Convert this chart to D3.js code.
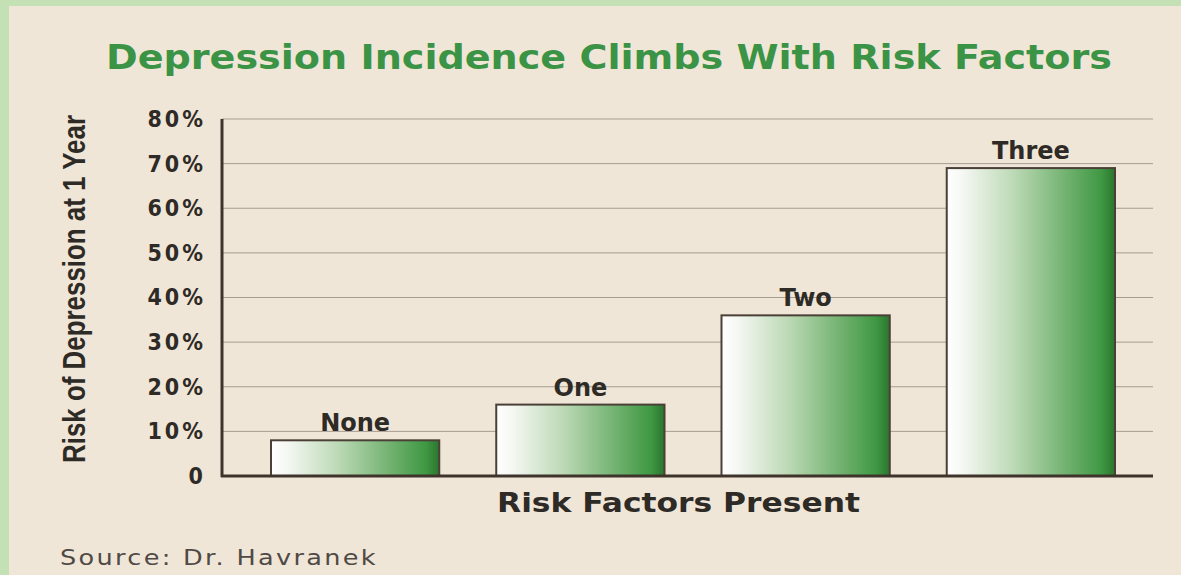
<!DOCTYPE html>
<html>
<head>
<meta charset="utf-8">
<script src="https://cdn.jsdelivr.net/npm/d3@7"></script>
<style>
  body { margin: 0; background: #f0e6d7; }
  svg { display: block; }
</style>
</head>
<body>
<div id="chart"></div>
<script>
// chart data
var categories = ["None", "One", "Two", "Three"];
var riskValues = [8, 16, 36, 69];
var yTicks = [0, 10, 20, 30, 40, 50, 60, 70, 80];

var svgWidth = 1181;
var svgHeight = 575;

var svg = d3.select("#chart")
  .append("svg")
  .attr("width", svgWidth)
  .attr("height", svgHeight);

// background panel with green border on top/left
svg.append("rect")
  .attr("width", svgWidth)
  .attr("height", svgHeight)
  .attr("fill", "#c4e1b6");
svg.append("rect")
  .attr("x", 9)
  .attr("y", 6)
  .attr("width", svgWidth - 9)
  .attr("height", svgHeight - 6)
  .attr("fill", "#f0e6d7");

// bar gradient
var defs = svg.append("defs");
var grad = defs.append("linearGradient")
  .attr("id", "barGrad")
  .attr("x1", "0%").attr("x2", "100%")
  .attr("y1", "0%").attr("y2", "0%");
grad.append("stop").attr("offset", "0%").attr("stop-color", "#ffffff");
grad.append("stop").attr("offset", "10%").attr("stop-color", "#f4f7f2");
grad.append("stop").attr("offset", "40%").attr("stop-color", "#bcd9b5");
grad.append("stop").attr("offset", "70%").attr("stop-color", "#74b372");
grad.append("stop").attr("offset", "92%").attr("stop-color", "#3f9843");
grad.append("stop").attr("offset", "100%").attr("stop-color", "#2a752e");

var plotLeft = 222, plotRight = 1153;

var y = d3.scaleLinear()
  .domain([0, 80])
  .range([476, 119]);

var x = d3.scaleBand()
  .domain(categories)
  .range([271, 1115])
  .paddingInner(0.253)
  .paddingOuter(0);

// gridlines
svg.append("g")
  .selectAll("line")
  .data(yTicks.filter(d => d > 0))
  .enter()
  .append("line")
  .attr("x1", plotLeft)
  .attr("x2", plotRight)
  .attr("y1", d => y(d))
  .attr("y2", d => y(d))
  .attr("stroke", "#a59d92")
  .attr("stroke-width", 1);

// y axis labels
var leftAxis = d3.axisLeft(y)
  .tickValues(yTicks)
  .tickSize(0)
  .tickPadding(16)
  .tickFormat(d => d === 0 ? "0" : d + "%");

var yAxisG = svg.append("g")
  .attr("transform", `translate(${plotLeft}, 0)`)
  .call(leftAxis);
yAxisG.select(".domain").remove();
yAxisG.selectAll("text")
  .attr("fill", "#2e2a26")
  .style("font-family", "'DejaVu Sans Condensed', 'DejaVu Sans', sans-serif")
  .style("font-stretch", "condensed")
  .style("font-weight", "bold")
  .style("letter-spacing", "3px")
  .style("font-size", "23px");

// bars
svg.append("g")
  .selectAll("rect")
  .data(riskValues)
  .enter()
  .append("rect")
  .attr("x", (d, i) => x(categories[i]))
  .attr("y", d => y(d))
  .attr("width", x.bandwidth())
  .attr("height", d => y(0) - y(d))
  .attr("fill", "url(#barGrad)")
  .attr("stroke", "#4a4038")
  .attr("stroke-width", 2);

// bar labels
svg.append("g")
  .selectAll("text")
  .data(riskValues)
  .enter()
  .append("text")
  .attr("x", (d, i) => x(categories[i]) + x.bandwidth() / 2)
  .attr("y", d => y(d) - 9)
  .attr("text-anchor", "middle")
  .attr("fill", "#2e2a26")
  .style("font-family", "'DejaVu Sans', sans-serif")
  .style("font-weight", "bold")
  .style("font-size", "24px")
  .text((d, i) => categories[i]);

// axis lines
svg.append("line")
  .attr("x1", plotLeft).attr("x2", plotLeft)
  .attr("y1", y(80)).attr("y2", y(0) + 1)
  .attr("stroke", "#3e342b")
  .attr("stroke-width", 3);
svg.append("line")
  .attr("x1", plotLeft - 1).attr("x2", plotRight)
  .attr("y1", y(0)).attr("y2", y(0))
  .attr("stroke", "#3e342b")
  .attr("stroke-width", 3);

// title
svg.append("text")
  .attr("x", 106)
  .attr("y", 69)
  .attr("fill", "#3b9345")
  .attr("textLength", 1006)
  .attr("lengthAdjust", "spacingAndGlyphs")
  .style("font-family", "'DejaVu Sans', sans-serif")
  .style("font-weight", "bold")
  .style("font-size", "34px")
  .text("Depression Incidence Climbs With Risk Factors");

// y axis title
svg.append("text")
  .attr("transform", "translate(85, 289) rotate(-90)")
  .attr("text-anchor", "middle")
  .attr("fill", "#2e2a26")
  .attr("textLength", 348)
  .attr("lengthAdjust", "spacingAndGlyphs")
  .style("font-family", "'Liberation Sans', Arial, sans-serif")
  .style("font-weight", "bold")
  .style("font-size", "31px")
  .text("Risk of Depression at 1 Year");

// x axis title
svg.append("text")
  .attr("x", 497)
  .attr("y", 512)
  .attr("fill", "#2e2a26")
  .attr("textLength", 363)
  .attr("lengthAdjust", "spacingAndGlyphs")
  .style("font-family", "'DejaVu Sans', sans-serif")
  .style("font-weight", "bold")
  .style("font-size", "27px")
  .text("Risk Factors Present");

// source
svg.append("text")
  .attr("x", 60)
  .attr("y", 565)
  .attr("fill", "#4f4a45")
  .attr("textLength", 318)
  .attr("lengthAdjust", "spacingAndGlyphs")
  .style("font-family", "'DejaVu Sans', sans-serif")
  .style("font-size", "22px")
  .style("letter-spacing", "2px")
  .text("Source: Dr. Havranek");
</script>
</body>
</html>
